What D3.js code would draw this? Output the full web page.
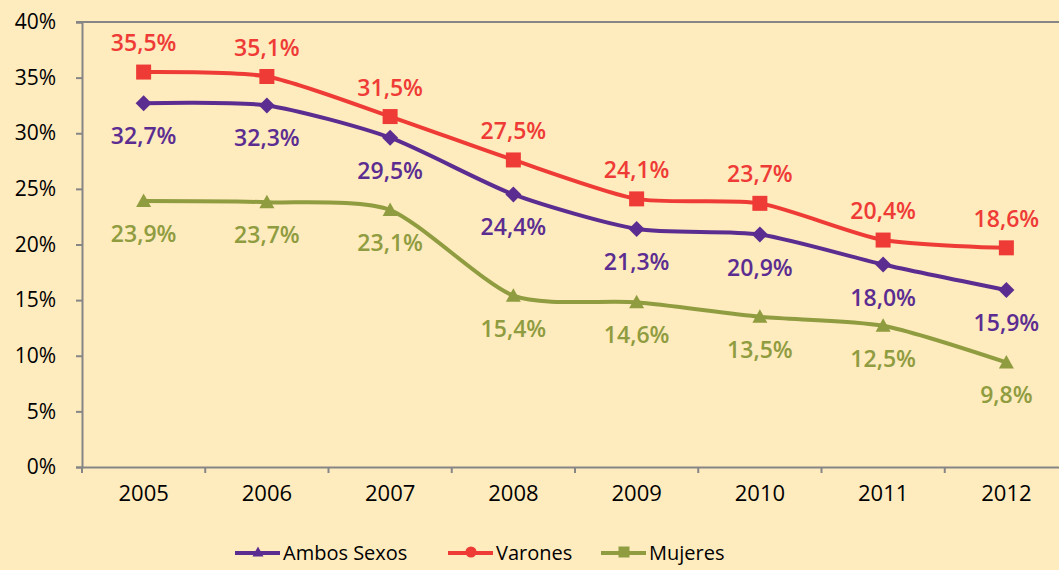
<!DOCTYPE html>
<html>
<head>
<meta charset="utf-8">
<script src="https://cdn.jsdelivr.net/npm/d3@7.9.0/dist/d3.min.js"></script>
<style>
  body { margin: 0; background: #feebbe; }
  svg { display: block; font-family: "Open Sans", sans-serif; }
</style>
</head>
<body>
<svg id="chart" width="1059" height="570"></svg>
<script>
const years = ['2005', '2006', '2007', '2008', '2009', '2010', '2011', '2012'];

// values as plotted, labels as printed
const ambos = [32.7, 32.5, 29.6, 24.5, 21.4, 20.9, 18.2, 15.9];
const ambosLabels = ['32,7%', '32,3%', '29,5%', '24,4%', '21,3%', '20,9%', '18,0%', '15,9%'];
const varones = [35.5, 35.1, 31.5, 27.6, 24.1, 23.7, 20.4, 19.7];
const varonesLabels = ['35,5%', '35,1%', '31,5%', '27,5%', '24,1%', '23,7%', '20,4%', '18,6%'];
const mujeres = [23.9, 23.8, 23.1, 15.4, 14.8, 13.5, 12.7, 9.4];
const mujeresLabels = ['23,9%', '23,7%', '23,1%', '15,4%', '14,6%', '13,5%', '12,5%', '9,8%'];

const yTicks = [0, 5, 10, 15, 20, 25, 30, 35, 40];

const series = [
  { name: 'Ambos Sexos', values: ambos, labels: ambosLabels, color: '#5c2d91', marker: 'diamond', legendMarker: 'triangle', dy: 33 },
  { name: 'Varones', values: varones, labels: varonesLabels, color: '#ef3b36', marker: 'square', legendMarker: 'circle', dy: -29 },
  { name: 'Mujeres', values: mujeres, labels: mujeresLabels, color: '#8f9c3f', marker: 'triangle', legendMarker: 'square', dy: 33 },
];

const svg = d3.select('#chart');
const plotLeft = 82, plotTop = 22, plotBottom = 467, plotRight = 1068;

const x = d3.scaleBand().domain(years).range([plotLeft, plotRight]);
const y = d3.scaleLinear().domain([0, 40]).range([plotBottom, plotTop]);
const cx = (i) => x(years[i]) + x.bandwidth() / 2;

// top border line
svg.append('line')
  .attr('x1', plotLeft - 6).attr('x2', 1059)
  .attr('y1', y(40)).attr('y2', y(40))
  .attr('stroke', '#868686').attr('stroke-width', 2);

// y axis
const yAxis = svg.append('g')
  .attr('transform', `translate(${plotLeft},0)`)
  .call(d3.axisLeft(y).tickValues(yTicks).tickSize(6).tickPadding(20).tickFormat((d) => d + '%'));
yAxis.select('.domain').attr('stroke', '#868686').attr('stroke-width', 2);
yAxis.selectAll('.tick line').attr('stroke', '#868686').attr('stroke-width', 2);
yAxis.selectAll('.tick text').attr('font-size', 21).attr('fill', '#000').attr('font-family', 'Open Sans, sans-serif');

// x axis
const xAxis = svg.append('g')
  .attr('transform', `translate(0,${plotBottom})`)
  .call(d3.axisBottom(x).tickSize(0).tickPadding(18));
xAxis.select('.domain').attr('stroke', '#868686').attr('stroke-width', 2);
xAxis.selectAll('.tick text').attr('font-size', 22).attr('fill', '#000').attr('font-family', 'Open Sans, sans-serif');
xAxis.selectAll('.bound')
  .data(years.map((d) => x(d)).concat([plotRight]))
  .join('line')
  .attr('x1', (d) => d).attr('x2', (d) => d)
  .attr('y1', 0).attr('y2', 6)
  .attr('stroke', '#868686').attr('stroke-width', 2);

function markerPath(type, size) {
  const s = size / 2;
  if (type === 'square') return `M${-s},${-s}H${s}V${s}H${-s}Z`;
  if (type === 'diamond') return `M0,${-s}L${s},0L0,${s}L${-s},0Z`;
  if (type === 'triangle') return `M0,${-s}L${s},${s * 0.8}L${-s},${s * 0.8}Z`;
  return d3.symbol(d3.symbolCircle, size * size * 0.8)();
}

const line = d3.line()
  .x((d, i) => cx(i))
  .y((d) => y(d))
  .curve(d3.curveCardinal.tension(0.3));

// draw Mujeres first, then Ambos, then Varones
[series[2], series[0], series[1]].forEach((s) => {
  const g = svg.append('g');
  g.append('path')
    .attr('d', line(s.values))
    .attr('fill', 'none')
    .attr('stroke', s.color)
    .attr('stroke-width', 4);
  g.selectAll('path.m')
    .data(s.values)
    .join('path')
    .attr('class', 'm')
    .attr('transform', (d, i) => `translate(${cx(i)},${y(d)})`)
    .attr('d', markerPath(s.marker, s.marker === 'diamond' ? 16 : 15))
    .attr('fill', s.color);
  g.selectAll('text')
    .data(s.values)
    .join('text')
    .attr('x', (d, i) => cx(i))
    .attr('y', (d) => y(d) + s.dy)
    .attr('dy', '0.35em')
    .attr('text-anchor', 'middle')
    .attr('font-size', 23)
    .attr('font-weight', 600)
    .attr('fill', s.color)
    .text((d, i) => s.labels[i]);
});

// legend
const legendX = [235, 448, 601];
series.forEach((s, i) => {
  const g = svg.append('g').attr('transform', `translate(${legendX[i]},553)`);
  g.append('line').attr('x1', 0).attr('x2', 45).attr('stroke', s.color).attr('stroke-width', 4);
  g.append('path')
    .attr('transform', 'translate(23,-1)')
    .attr('d', markerPath(s.legendMarker, 11))
    .attr('fill', s.color);
  g.append('text')
    .attr('x', 48)
    .attr('dy', '0.35em')
    .attr('font-size', 20)
    .attr('fill', '#000')
    .text(s.name);
});
</script>
</body>
</html>
